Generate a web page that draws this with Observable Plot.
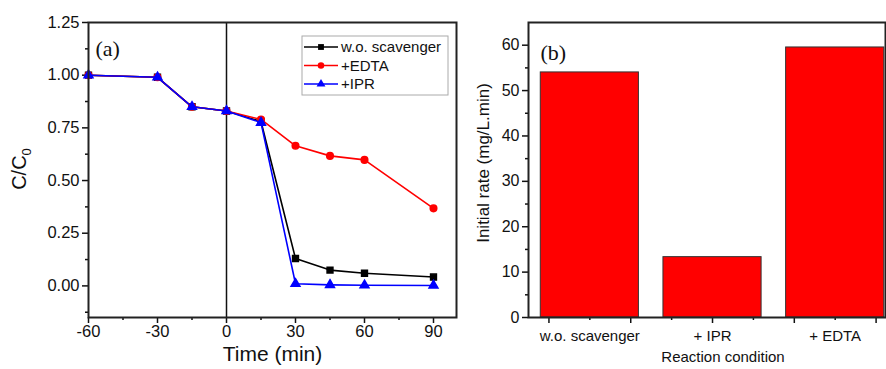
<!DOCTYPE html>
<html>
<head>
<meta charset="utf-8">
<script src="https://cdn.jsdelivr.net/npm/d3@7"></script>
<script src="https://cdn.jsdelivr.net/npm/@observablehq/plot@0.6"></script>
<style>
  html, body { margin: 0; padding: 0; background: #fff; }
  #wrap { position: relative; width: 886px; height: 369px; overflow: hidden; }
  #a { position: absolute; left: 0; top: 0; }
  #b { position: absolute; left: 460px; top: 0; }
</style>
</head>
<body>
<div id="wrap"><div id="a"></div><div id="b"></div></div>
<script>
// ---- Panel (a) data ----
const times = [-60, -30, -15, 0, 15, 30, 45, 60, 90];
const noScavenger = [1.00, 0.99, 0.85, 0.83, 0.78, 0.13, 0.075, 0.06, 0.042];
const withEDTA   = [1.00, 0.99, 0.85, 0.83, 0.79, 0.665, 0.617, 0.598, 0.368];
const withIPR    = [1.00, 0.99, 0.85, 0.83, 0.775, 0.01, 0.005, 0.003, 0.002];
const seriesNames = ["w.o. scavenger", "+EDTA", "+IPR"];
const seriesColors = ["#000000", "#ff0000", "#0000ff"];
const seriesSymbols = ["square", "circle", "triangle"];
const seriesValues = [noScavenger, withEDTA, withIPR];
const xTicksA = [-60, -30, 0, 30, 60, 90];
const xMinorA = [-45, -15, 15, 45, 75];
const yTicksA = [0, 0.25, 0.5, 0.75, 1.0, 1.25];
const yMinorA = [-0.125, 0.125, 0.375, 0.625, 0.875, 1.125];

// ---- Panel (b) data ----
const conditions = ["w.o. scavenger", "+ IPR", "+ EDTA"];
const rates = [54.0, 13.3, 59.5];
const condPos = [1, 2, 3];
const yTicksB = [0, 10, 20, 30, 40, 50, 60];
const yMinorB = [5, 15, 25, 35, 45, 55];
const xMajorB = [2/3, 4/3, 2, 8/3, 10/3];
const xMinorB = [1, 5/3, 7/3, 3];

const FONT = "'Liberation Sans', Arial, Helvetica, sans-serif";

const rowsA = seriesNames.flatMap((s, i) => times.map((t, j) => ({series: s, t, v: seriesValues[i][j]})));

const seriesMarks = seriesNames.flatMap(s => {
  const d = rowsA.filter(r => r.series === s);
  return [
    Plot.line(d, {x: "t", y: "v", stroke: "series", strokeWidth: 1.6}),
    Plot.dot(d, {x: "t", y: "v", fill: "series", stroke: "series", symbol: "series", r: 3.3})
  ];
});

const plotA = Plot.plot({
  width: 460, height: 369,
  marginLeft: 88, marginRight: 4, marginTop: 22, marginBottom: 52,
  style: {fontFamily: FONT, background: "white", color: "#111"},
  x: {domain: [-60, 100], label: null},
  y: {domain: [-0.15, 1.25], label: null},
  color: {domain: seriesNames, range: seriesColors},
  symbol: {domain: seriesNames, range: seriesSymbols},
  marks: [
    Plot.axisX({ticks: xTicksA, tickSize: 6, tickPadding: 2, fontSize: 16.5, tickFormat: d => String(d), label: null, strokeWidth: 1.5}),
    Plot.axisX({ticks: xMinorA, tickSize: 3, tickFormat: () => "", label: null, strokeWidth: 1.5}),
    Plot.axisY({ticks: yTicksA, tickSize: 6, tickPadding: 3, fontSize: 16.5, tickFormat: d3.format(".2f"), label: null, strokeWidth: 1.5}),
    Plot.axisY({ticks: yMinorA, tickSize: 3, tickFormat: () => "", label: null, strokeWidth: 1.5}),
    Plot.ruleX([0], {stroke: "#111", strokeWidth: 1.5}),
    ...seriesMarks,
    Plot.frame({stroke: "#222", strokeWidth: 2}),
    Plot.text(["Time (min)"], {text: d => d, frameAnchor: "bottom", dy: 43, fontSize: 21}),
    Plot.text(["(a)"], {text: d => d, frameAnchor: "top-left", textAnchor: "start", dx: 7, dy: 18, fontSize: 22, fontFamily: "'Liberation Serif', 'DejaVu Serif', serif"})
  ]
});
document.getElementById("a").appendChild(plotA);

// y label with subscript and legend for panel (a)
const svgA = d3.select(plotA);
const yl = svgA.append("text")
  .attr("transform", "translate(26,169) rotate(-90)")
  .attr("text-anchor", "middle")
  .attr("font-family", FONT)
  .attr("font-size", 20)
  .attr("fill", "#111");
yl.append("tspan").text("C/C");
yl.append("tspan").attr("font-size", 13).attr("dy", 5).text("0");

const lg = svgA.append("g").attr("font-family", FONT).attr("font-size", 15);
lg.append("rect").attr("x", 302).attr("y", 36).attr("width", 146).attr("height", 59)
  .attr("fill", "white").attr("stroke", "#aaa").attr("stroke-width", 1);
const d3sym = {square: d3.symbolSquare, circle: d3.symbolCircle, triangle: d3.symbolTriangle};
seriesNames.forEach((s, i) => {
  const y = 47 + i * 18.5;
  lg.append("line").attr("x1", 304).attr("x2", 338).attr("y1", y).attr("y2", y)
    .attr("stroke", seriesColors[i]).attr("stroke-width", 1.6);
  lg.append("path").attr("transform", `translate(321,${y})`)
    .attr("d", d3.symbol(d3sym[seriesSymbols[i]], 34)())
    .attr("fill", seriesColors[i]);
  lg.append("text").attr("x", 341).attr("y", y).attr("dy", "0.35em")
    .attr("text-anchor", "start").attr("fill", "#111").text(s);
});

// ---- Panel (b) ----
const rowsB = conditions.map((c, i) => ({cond: c, pos: condPos[i], rate: rates[i]}));
const plotB = Plot.plot({
  width: 426, height: 369,
  marginLeft: 68, marginRight: 1, marginTop: 22, marginBottom: 52,
  style: {fontFamily: FONT, background: "white", color: "#111"},
  x: {type: "linear", domain: [0.5, 3.41], label: null},
  y: {domain: [0, 65], label: null},
  marks: [
    Plot.rectY(rowsB, {x1: d => d.pos - 0.4, x2: d => d.pos + 0.4, y1: 0, y2: "rate", fill: "#ff0000", stroke: "#333", strokeWidth: 1}),
    Plot.axisX({ticks: xMajorB, tickSize: 6, tickFormat: () => "", label: null, strokeWidth: 1.5}),
    Plot.axisX({ticks: xMinorB, tickSize: 3, tickFormat: () => "", label: null, strokeWidth: 1.5}),
    Plot.axisX({ticks: condPos, tickSize: 0, tickPadding: 13, fontSize: 15, tickFormat: d => conditions[condPos.indexOf(d)], label: null}),
    Plot.axisY({ticks: yTicksB, tickSize: 6, tickPadding: 3, fontSize: 16, label: null, strokeWidth: 1.5}),
    Plot.axisY({ticks: yMinorB, tickSize: 3, tickFormat: () => "", label: null, strokeWidth: 1.5}),
    Plot.frame({stroke: "#222", strokeWidth: 2}),
    Plot.text(["Reaction condition"], {text: d => d, frameAnchor: "bottom", dx: 16, dy: 44, fontSize: 15}),
    Plot.text(["(b)"], {text: d => d, frameAnchor: "top-left", textAnchor: "start", dx: 12, dy: 22, fontSize: 22, fontFamily: "'Liberation Serif', 'DejaVu Serif', serif"})
  ]
});
document.getElementById("b").appendChild(plotB);

d3.select(plotB).append("text")
  .attr("transform", "translate(29,163) rotate(-90)")
  .attr("text-anchor", "middle")
  .attr("font-family", FONT)
  .attr("font-size", 17)
  .attr("fill", "#111")
  .text("Initial rate (mg/L.min)");
</script>
</body>
</html>
